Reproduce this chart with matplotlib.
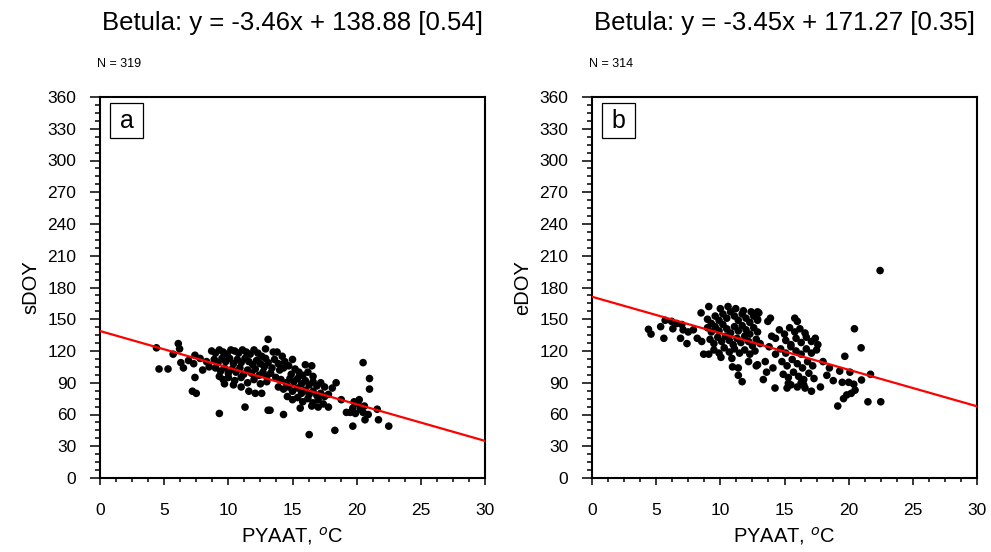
import matplotlib
matplotlib.use("Agg")
import matplotlib.pyplot as plt
from matplotlib.ticker import MultipleLocator
from matplotlib.patches import Rectangle

plt.rcParams['font.family'] = ['Liberation Sans', 'DejaVu Sans']

titles = ["Betula: y = -3.46x + 138.88 [0.54]", "Betula: y = -3.45x + 171.27 [0.35]"]
counts = ["N = 319", "N = 314"]
panel_labels = ["a", "b"]
ylabels = ["sDOY", "eDOY"]
xlabel = "PYAAT, $^{o}$C"
slopes = [-3.46, -3.45]
intercepts = [138.88, 171.27]

# Panel a: PYAAT (x) vs sDOY (y)
a_x = [4.4, 4.6, 5.3, 5.7, 6.1, 6.2, 6.3, 6.5, 6.9, 7.4, 7.3, 7.4, 7.2, 7.5, 9.3, 8.0, 8.3, 7.8, 8.5,
       8.7, 9.0, 9.3, 9.6, 9.9, 10.2, 10.5, 10.8, 11.1, 11.4, 11.7, 12.0, 12.3, 12.6, 12.9,
       8.9, 9.2, 9.5, 9.8, 10.1, 10.4, 10.7, 11.0, 11.3, 11.6, 11.9, 12.2, 12.5, 12.8, 13.1, 13.4,
       9.0, 9.4, 9.7, 10.0, 10.3, 10.6, 10.9, 11.2, 11.5, 11.8, 12.1, 12.4, 12.7, 13.0, 13.3,
       9.3, 9.6, 10.0, 10.5, 11.0, 11.5, 12.0, 12.5, 13.0, 10.4, 11.0, 9.7,
       11.6, 12.1, 12.6, 11.3, 13.1, 13.1, 13.5, 13.8, 12.9,
       13.6, 13.9, 14.2, 14.4, 14.0, 14.3, 14.7, 15.0, 15.2, 14.9, 16.0, 16.5, 15.5, 15.8, 16.2, 16.6,
       13.7, 14.1, 14.5, 14.8, 15.1, 15.4, 15.7, 16.0, 16.3, 16.6, 16.9, 17.2, 17.5,
       13.9, 14.3, 14.7, 15.0, 15.4, 15.7, 16.0, 16.3, 16.6, 16.9, 17.2, 17.5, 17.8,
       14.6, 15.0, 15.4, 15.8, 16.2, 16.6, 17.0, 17.4, 14.3, 13.25, 17.0, 17.8, 15.6, 16.3, 16.5,
       18.1, 18.4, 18.8, 18.3,
       19.5, 19.7, 19.9, 20.1, 20.3, 20.5, 19.8, 20.2, 20.6, 20.5, 21.0, 21.0, 21.6, 21.7, 22.5,
       20.65, 19.7, 19.2, 20.9]
a_y = [123, 103, 103, 117, 127, 122, 109, 104, 111, 116, 108, 95, 82, 80, 61, 102, 110, 113, 105,
       120, 118, 121, 119, 117, 121, 120, 118, 121, 119, 117, 121, 118, 115, 113,
       112, 109, 113, 110, 113, 108, 112, 109, 113, 110, 107, 111, 108, 105, 109, 104,
       104, 101, 104, 99, 103, 100, 104, 98, 102, 99, 103, 97, 100, 96, 99,
       96, 93, 95, 92, 95, 90, 93, 89, 91, 88, 86, 89,
       82, 80, 80, 67, 64, 131, 119, 119, 122,
       112, 108, 115, 110, 102, 104, 106, 112, 103, 98, 107, 106, 100, 97, 100, 96,
       95, 93, 90, 94, 91, 94, 89, 92, 88, 91, 87, 90, 86,
       86, 84, 86, 82, 85, 80, 83, 79, 82, 78, 80, 77, 79,
       77, 74, 76, 72, 75, 71, 74, 70, 60, 64, 67, 67, 66, 41, 68,
       85, 90, 74, 45,
       62, 66, 61, 70, 65, 62, 72, 74, 68, 109, 94, 84, 65, 55, 49,
       55, 49, 62, 60]

# Panel b: PYAAT (x) vs eDOY (y)
b_x = [4.4, 4.6, 5.35, 5.6, 5.7, 6.2, 6.3, 6.9, 7.4, 7.1, 7.5, 7.9, 8.2, 8.55, 8.7, 9.1, 8.5, 9.1, 6.6, 7.0,
       9.0, 9.3, 9.6, 9.9, 10.2, 10.5, 10.8, 11.1, 11.4, 11.7, 12.0, 12.3, 12.6, 12.9,
       10.0, 10.6, 11.2, 11.8, 12.4, 13.0,
       9.0, 9.3, 9.6, 9.9, 10.2, 10.5, 10.8, 11.1, 11.4, 11.7, 12.0, 12.3, 12.6, 12.9,
       9.2, 9.5, 9.8, 10.1, 10.4, 10.7, 11.0, 11.3, 11.6, 11.9, 12.2, 12.5, 12.8, 13.1,
       9.5, 9.9, 10.3, 10.7, 11.1, 11.5, 11.9, 12.3, 12.7,
       10.05, 10.9, 10.95, 11.4, 11.4, 11.7, 12.8, 12.9, 12.2,
       12.9, 12.9, 13.9, 13.7, 14.0, 14.3, 13.5, 13.35, 14.26, 15.2, 15.3, 15.8, 16.0, 17.4, 17.6,
       17.8, 17.1, 16.5,
       14.6, 15.0, 15.4, 15.8, 16.2, 16.6, 15.1, 15.5, 15.9, 16.3, 16.7, 17.1,
       14.7, 15.1, 15.5, 15.9, 16.3, 16.7, 17.1, 17.5, 14.8, 15.2, 15.6, 16.0, 16.4, 16.8, 17.2,
       14.9, 15.3, 15.7, 16.1, 16.5, 16.9, 17.3, 15.5, 16.0, 16.3, 16.6, 14.3, 13.8, 13.6, 14.1,
       20.45, 20.97, 19.7, 21.7, 22.5, 21.5, 19.15, 19.6, 19.85, 20.2, 20.5, 20.4, 20.0, 19.5,
       18.8, 18.3, 19.3, 20.1, 21.0, 22.45, 18.0, 18.5]
b_y = [140.5, 136, 143, 132, 149, 148, 141, 132, 127, 140, 138, 140, 132, 129, 117, 117, 156, 162, 146, 145,
       150, 146, 153, 149, 155, 151, 157, 153, 149, 155, 151, 147, 153, 149,
       160, 162, 160, 158, 157, 156,
       142, 138, 143, 139, 145, 141, 137, 143, 139, 144, 140, 136, 142, 138,
       131, 127, 133, 129, 134, 130, 126, 132, 128, 134, 129, 125, 131, 127,
       121, 118, 123, 119, 122, 118, 121, 117, 120,
       114, 113, 105, 104, 97, 91, 106, 107, 110,
       150, 157, 151, 148, 134, 132, 110, 93, 85, 85, 89.5, 151, 148, 132, 126,
       86, 82, 88,
       140, 136, 142, 138, 141, 137, 130, 126, 132, 128, 133, 129,
       122, 118, 124, 120, 117, 122, 118, 121, 110, 106, 112, 108, 104, 110, 106,
       98, 95, 100, 96, 93, 99, 94, 88, 86, 90, 85, 117, 124, 100, 104,
       141, 123, 115, 98, 72, 72, 68, 75, 78.5, 80, 83, 88.6, 90.4, 90.4,
       92, 97, 101, 100, 92.6, 196, 110, 104]

xs = [a_x, b_x]
ys = [a_y, b_y]

fig = plt.figure(figsize=(9.91, 5.52), dpi=100)
lefts = [100 / 991, 592 / 991]
for i in range(2):
    ax = fig.add_axes([lefts[i], 74 / 552, 385 / 991, 381 / 552])
    ax.scatter(xs[i], ys[i], s=30, color='black', edgecolors='none', zorder=2)
    lx = [0, 30]
    ly = [intercepts[i] + slopes[i] * v for v in lx]
    ax.plot(lx, ly, color='red', lw=1.6, zorder=3, clip_on=True)
    ax.set_xlim(0, 30)
    ax.set_ylim(0, 360)
    ax.xaxis.set_major_locator(MultipleLocator(5))
    ax.xaxis.set_minor_locator(MultipleLocator(1.25))
    ax.yaxis.set_major_locator(MultipleLocator(30))
    ax.yaxis.set_minor_locator(MultipleLocator(7.5))
    ax.tick_params(axis='y', which='major', direction='out', length=7, width=1.1, labelsize=12.5, pad=10)
    ax.tick_params(axis='y', which='minor', direction='out', length=3.5, width=1.1)
    ax.tick_params(axis='x', which='major', direction='out', length=5, width=1.1, labelsize=12.5, pad=13)
    ax.tick_params(axis='x', which='minor', direction='out', length=3, width=1.1)
    ax.tick_params(top=False, right=False, which='both')
    for sp in ax.spines.values():
        sp.set_linewidth(1.5)
    ax.set_xlabel(xlabel, fontsize=14.5, labelpad=5)
    ax.set_ylabel(ylabels[i], fontsize=14.5, labelpad=5)
    ax.text(0.5, 1.194, titles[i], transform=ax.transAxes, ha='center', va='center', fontsize=18.5)
    ax.text(-0.008, 1.087, counts[i], transform=ax.transAxes, ha='left', va='center', fontsize=9)
    ax.add_patch(Rectangle((0.026, 0.892), 0.0857, 0.0919, transform=ax.transAxes,
                           facecolor='white', edgecolor='black', linewidth=0.9, zorder=4))
    ax.text(0.026 + 0.0857 / 2, 0.892 + 0.0919 / 2, panel_labels[i], transform=ax.transAxes,
            ha='center', va='center', fontsize=18, zorder=5)

fig.savefig("out.png", dpi=100)
